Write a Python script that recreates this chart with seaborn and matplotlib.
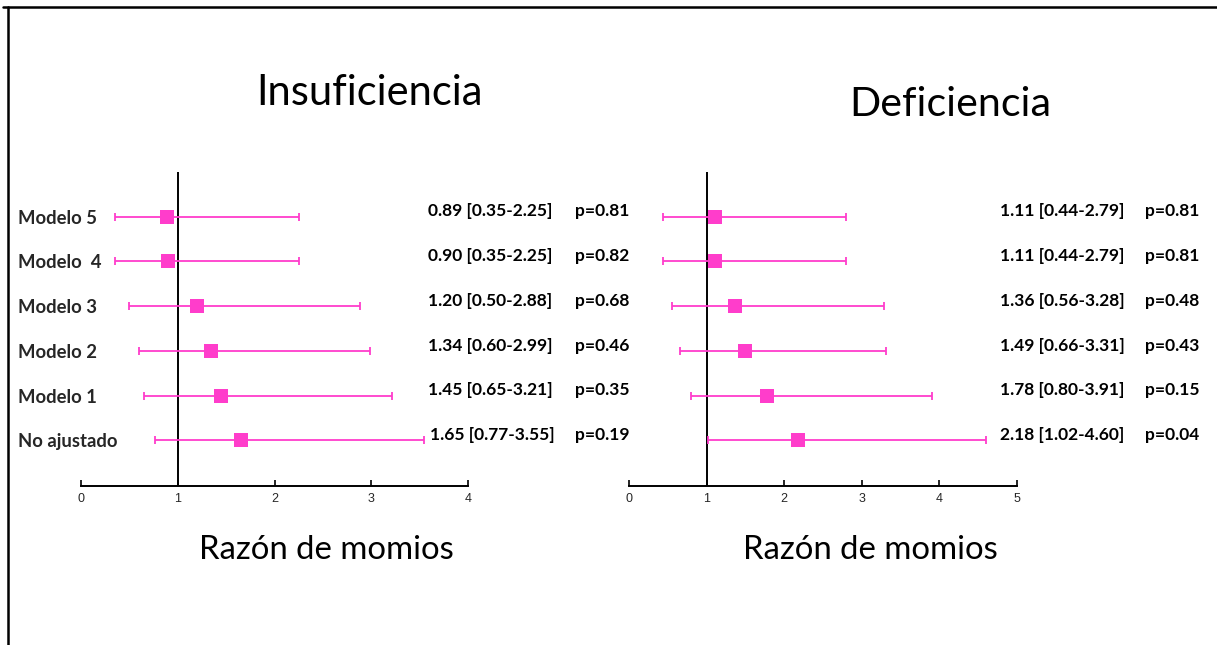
import matplotlib
matplotlib.use("Agg")
import matplotlib.pyplot as plt
import matplotlib.transforms as mtrans
from matplotlib.lines import Line2D
import seaborn as sns
import pandas as pd

sns.set_theme(style="white")
plt.rcParams['font.family'] = ['Lato', 'DejaVu Sans']

# ---- data ----
models = ["Modelo 5", "Modelo  4", "Modelo 3", "Modelo 2", "Modelo 1", "No ajustado"]

ins_or = [0.89, 0.90, 1.20, 1.34, 1.45, 1.65]
ins_lo = [0.35, 0.35, 0.50, 0.60, 0.65, 0.77]
ins_hi = [2.25, 2.25, 2.88, 2.99, 3.21, 3.55]
ins_p = [0.81, 0.82, 0.68, 0.46, 0.35, 0.19]

def_or = [1.11, 1.11, 1.36, 1.49, 1.78, 2.18]
def_lo = [0.44, 0.44, 0.56, 0.66, 0.80, 1.02]
def_hi = [2.79, 2.79, 3.28, 3.31, 3.91, 4.60]
def_p = [0.81, 0.81, 0.48, 0.43, 0.15, 0.04]

titles = ["Insuficiencia", "Deficiencia"]
xlabel = "Razón de momios"
ins_ticks = [0, 1, 2, 3, 4]
def_ticks = [0, 1, 2, 3, 4, 5]

PINK = "#FF3DCB"
W, H = 1217, 645
fig = plt.figure(figsize=(W / 100, H / 100), dpi=100)
fig.patch.set_facecolor("white")

def fx(px):
    return px / W

def fy(py):
    return 1 - py / H

ax_bottom = fy(486)
ax_top = fy(172)
axL = fig.add_axes([fx(81), ax_bottom, fx(468) - fx(81), ax_top - ax_bottom])
axR = fig.add_axes([fx(629), ax_bottom, fx(1017) - fx(629), ax_top - ax_bottom])

ypos = [5, 4, 3, 2, 1, 0]

def panel(ax, orv, lo, hi, pv, ticks, xmax, text_x, p_x, text_x_last=None):
    df = pd.DataFrame({"model": models, "y": ypos, "or": orv, "lo": lo, "hi": hi})
    ax.errorbar(df["or"], df["y"],
                xerr=[df["or"] - df["lo"], df["hi"] - df["or"]],
                fmt="none", ecolor=PINK, elinewidth=1.3, capsize=3, capthick=1.3, zorder=2)
    sns.scatterplot(data=df, x="or", y="y", marker="s", s=110, color=PINK,
                    edgecolor=PINK, linewidth=0, ax=ax, zorder=3, legend=False)
    ax.axvline(1, color="black", lw=1.4, zorder=1)
    ax.set_xlim(0, xmax)
    ax.set_ylim(-1.02, 6)
    ax.set_xticks(ticks)
    ax.set_xticklabels([str(t) for t in ticks], fontsize=9, fontfamily="Liberation Sans",
                       fontstretch="condensed")
    ax.tick_params(axis="x", direction="in", length=4, width=1.2, color="black", pad=5, bottom=True)
    for s in ["top", "right", "left"]:
        ax.spines[s].set_visible(False)
    ax.spines["bottom"].set_color("black")
    ax.spines["bottom"].set_linewidth(1.4)
    ax.set_xlabel("")
    ax.set_ylabel("")
    ax.set_facecolor("none")
    tr = mtrans.blended_transform_factory(fig.transFigure, ax.transData)
    for i, (m, y) in enumerate(zip(orv, ypos)):
        tx = text_x_last if (text_x_last is not None and i == len(orv) - 1) else text_x
        ax.text(fx(tx), y + 0.12, f"{m:.2f} [{lo[i]:.2f}-{hi[i]:.2f}]", transform=tr,
                ha="left", va="center", fontsize=12.5, fontweight="bold", color="black")
        ax.text(fx(p_x), y + 0.12, f"p={pv[i]:.2f}", transform=tr,
                ha="left", va="center", fontsize=12.5, fontweight="bold", color="black")

panel(axL, ins_or, ins_lo, ins_hi, ins_p, ins_ticks, 4, 428, 575, text_x_last=430)
panel(axR, def_or, def_lo, def_hi, def_p, def_ticks, 5, 1000, 1145)

axL.set_yticks(ypos)
axL.set_yticklabels(models, fontsize=13.3, fontweight="bold", ha="left")
axL.tick_params(axis="y", left=False, length=0, pad=(81 - 18) / 1.389)
axR.set_yticks([])

fig.text(fx(370), fy(93), titles[0], ha="center", va="center", fontsize=30, color="black")
fig.text(fx(950), fy(105), titles[1], ha="center", va="center", fontsize=29.6, color="black")
fig.text(fx(326), fy(550), xlabel, ha="center", va="center", fontsize=23.7, color="black")
fig.text(fx(870), fy(550), xlabel, ha="center", va="center", fontsize=23.7, color="black")

# outer frame (top and left edges)
fig.add_artist(Line2D([fx(3), 1], [fy(7), fy(7)], transform=fig.transFigure, color="black", lw=1.8))
fig.add_artist(Line2D([fx(8), fx(8)], [fy(7), 0], transform=fig.transFigure, color="black", lw=1.8))

fig.savefig("out.png", dpi=100, facecolor="white")
